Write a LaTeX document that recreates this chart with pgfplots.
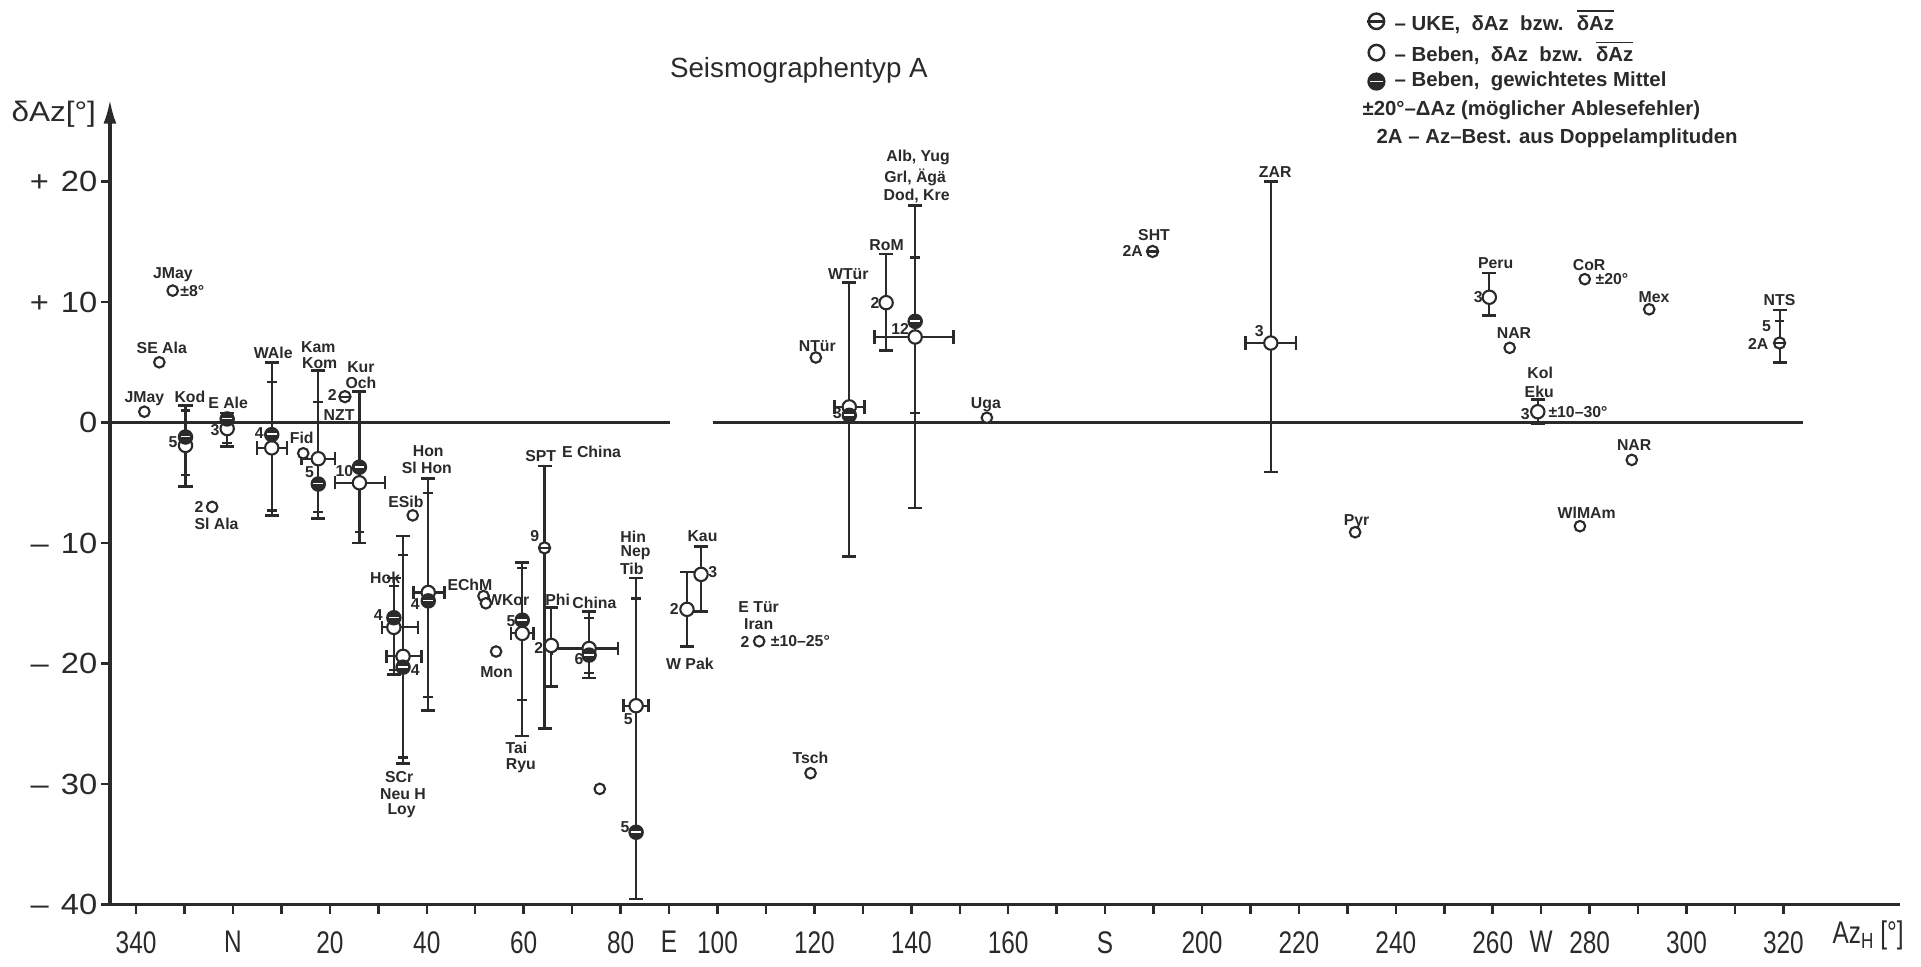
\documentclass[border=0pt]{standalone}
\usepackage{fontspec}
\setmainfont{Liberation Sans}
\newfontfamily\narrowfont{Liberation Sans}[FakeStretch=0.78]
\newfontfamily\widefont{Liberation Sans}[FakeStretch=1.12]
\usepackage{pgfplots}
\pgfplotsset{compat=1.18}
\usetikzlibrary{arrows.meta}
\definecolor{ink}{HTML}{2A2A2A}
\tikzset{lbl/.style={font=\fontsize{4.5}{5}\selectfont\bfseries, text=ink, inner sep=0pt}}

\pgfdeclareplotmark{uke}{%
  \pgfpathcircle{\pgfpointorigin}{\pgfplotmarksize}%
  \pgfusepathqfillstroke
  \pgfpathmoveto{\pgfqpoint{-\pgfplotmarksize}{0pt}}%
  \pgfpathlineto{\pgfqpoint{\pgfplotmarksize}{0pt}}%
  \pgfusepathqstroke}
\pgfdeclareplotmark{wmean}{%
  \pgfpathcircle{\pgfpointorigin}{\pgfplotmarksize}%
  \pgfusepathqfillstroke
  \pgfscope
  \pgfsetstrokecolor{white}%
  \pgfsetlinewidth{0.45pt}%
  \pgfpathmoveto{\pgfqpoint{-0.72\pgfplotmarksize}{0.1pt}}%
  \pgfpathlineto{\pgfqpoint{0.72\pgfplotmarksize}{0.1pt}}%
  \pgfusepathqstroke
  \endpgfscope}

\newcommand{\lab}[3]{\node[lbl] at (axis cs:#1,#2) {#3};}

\begin{document}
\begin{tikzpicture}
\begin{axis}[
  scale only axis,
  width=17.897cm, height=8.049cm,
  xmin=-25.4, xmax=344, ymin=-40, ymax=26.8,
  axis x line=bottom, axis y line=left,
  x axis line style={-, line width=0.9pt, draw=ink},
  y axis line style={-{Latex[length=0.24cm,width=0.13cm]}, line width=0.9pt, draw=ink},
  tick align=outside,
  major tick length=0.09cm,
  tick style={draw=ink, line width=0.7pt},
  xtick={-20,-10,...,320},
  xticklabels={340,,N,,20,,40,,60,,80,E,100,,120,,140,,160,,S,,200,,220,,240,,260,W,280,,300,,320},
  ytick={-40,-30,...,20},
  yticklabels={–\hspace{0.12cm}40,–\hspace{0.12cm}30,–\hspace{0.12cm}20,–\hspace{0.12cm}10,0,+\hspace{0.12cm}10,+\hspace{0.12cm}20},
  x tick label style={font=\narrowfont\fontsize{8.9}{9}\selectfont, text=ink, anchor=north, inner sep=0pt, yshift=-0.17cm},
  y tick label style={font=\widefont\fontsize{8.3}{9}\selectfont, text=ink, anchor=east, inner sep=0pt, xshift=-0.03cm},
  clip=false,
]
% zero line (two pieces)
\addplot[ink, line width=0.8pt, forget plot] coordinates {(-25.4,0) (90.2,0)};
\addplot[ink, line width=0.8pt, forget plot] coordinates {(99.0,0) (324,0)};

% vertical ranges: x, centre, half range
\addplot[draw=none, mark=none, forget plot,
  error bars/.cd, y dir=both, y explicit,
  error bar style={draw=ink, line width=0.6pt},
  error mark=|,
  error mark options={draw=ink, line width=0.75pt, mark size=2.0pt}]
  table[x=x, y=c, y error=h] {
x c h
-9.8 -1.95 3.35
-1.2 -0.6 1.4
8.0 -1.35 6.35
17.6 -1.825 6.125
26.1 -3.7 6.3
40.3 -14.275 9.625
35.1 -18.85 9.45
33.2 -16.9 4.0
59.7 -18.8 7.2
64.3 -14.5 10.9
65.7 -18.625 3.275
73.5 -18.45 2.75
83.2 -26.225 13.325
93.7 -15.5 3.1
96.6 -13.0 2.7
127.2 0.25 11.35
134.8 10.0 4.0
140.8 5.45 12.55
214.2 7.95 12.05
259.3 10.65 1.75
269.3 0.92 0.98
319.2 7.175 2.175
};

% small reading-error ticks on the bars
\addplot[only marks, mark=-, mark size=1.4pt, mark options={draw=ink, line width=0.6pt}, forget plot]
  coordinates {(-9.8,1.0) (-9.8,-4.35) (-1.2,0.55) (-1.2,-1.7) (8.0,3.4) (8.0,-7.3)
  (17.6,1.7) (17.6,-7.4) (26.1,0.0) (26.1,-9.1) (40.3,-5.85) (40.3,-22.8)
  (35.1,-11.0) (35.1,-27.8) (33.2,-13.6) (33.2,-20.5) (59.7,-12.1) (59.7,-23.0)
  (73.5,-16.2) (73.5,-20.8) (83.2,-14.6) (140.8,13.7) (140.8,0.77) (319.2,8.4)};

% open circles with horizontal error bars
\addplot[only marks, mark=*, mark size=1.9pt, mark options={fill=white, draw=ink, line width=0.6pt}, forget plot,
  error bars/.cd, x dir=both, x explicit,
  error bar style={draw=ink, line width=0.6pt},
  error mark=|,
  error mark options={draw=ink, line width=0.7pt, mark size=1.9pt}]
  table[x=x, y=y, x error plus=ep, x error minus=em] {
x y ep em
8.0 -2.1 3.1 3.1
17.6 -3.0 3.5 3.5
26.1 -5.0 5.3 5.1
33.2 -17.0 5.0 2.4
35.1 -19.4 3.8 3.4
40.3 -14.1 3.4 3.0
59.7 -17.5 2.3 2.3
73.5 -18.75 6.0 7.8
83.2 -23.5 2.6 2.6
127.2 1.3 3.1 3.1
140.8 7.1 7.9 8.4
214.2 6.6 5.2 5.2
};

% open circles on bars, no horizontal bar
\addplot[only marks, mark=*, mark size=1.9pt, mark options={fill=white, draw=ink, line width=0.6pt}, forget plot]
  coordinates {(-9.8,-1.9) (-1.2,-0.5) (65.7,-18.5) (93.7,-15.5) (96.6,-12.6)
  (134.8,9.95) (259.3,10.4) (269.3,0.9)};

% single open circles
\addplot[only marks, mark=*, mark size=1.5pt, mark options={fill=white, draw=ink, line width=0.6pt}, forget plot]
  coordinates {(-12.45,10.95) (-15.2,5.0) (-18.3,0.9) (-4.3,-7.0) (14.5,-2.55) (37.1,-7.7)
  (51.7,-14.4) (52.2,-15.0) (54.3,-19.0) (75.7,-30.4) (108.6,-18.15) (119.2,-29.1)
  (120.3,5.4) (155.6,0.4) (231.6,-9.1) (263.5,6.2) (279.0,11.9) (292.3,9.4)
  (288.7,-3.1) (278.0,-8.6)};

% weighted means
\addplot[only marks, mark=wmean, mark size=1.9pt, mark options={fill=ink, draw=ink, line width=0.6pt}, forget plot]
  coordinates {(-9.8,-1.2) (-1.2,0.3) (8.0,-1.0) (17.6,-5.1) (26.1,-3.7) (33.2,-16.2)
  (35.1,-20.3) (40.3,-14.8) (59.7,-16.4) (73.5,-19.3) (83.2,-34.0) (127.2,0.6) (140.8,8.4)};

% UKE
\addplot[only marks, mark=uke, mark size=1.6pt, mark options={fill=white, draw=ink, line width=0.6pt}, forget plot]
  coordinates {(23.1,2.15) (64.3,-10.4) (189.8,14.2) (319.2,6.6)};

% station labels
\lab{-12.4}{12.3}{JMay}
\lab{-8.4}{10.9}{±8°}
\lab{-14.7}{6.2}{SE Ala}
\lab{-18.3}{2.0}{JMay}
\lab{-8.9}{2.15}{Kod}
\lab{-12.4}{-1.6}{5}
\lab{-1.0}{1.65}{E Ale}
\lab{-3.7}{-0.6}{3}
\lab{8.3}{5.8}{WAle}
\lab{5.4}{-0.9}{4}
\lab{14.2}{-1.3}{Fid}
\lab{17.6}{6.3}{Kam}
\lab{17.9}{4.9}{Kom}
\lab{20.5}{2.3}{2}
\lab{21.9}{0.6}{NZT}
\lab{15.8}{-4.1}{5}
\lab{26.4}{4.6}{Kur}
\lab{26.4}{3.3}{Och}
\lab{23.0}{-4.0}{10}
\lab{40.3}{-2.4}{Hon}
\lab{40.0}{-3.8}{Sl Hon}
\lab{35.7}{-6.6}{ESib}
\lab{-7.0}{-7.0}{2}
\lab{-3.4}{-8.4}{Sl Ala}
\lab{31.4}{-12.9}{Hok}
\lab{30.0}{-16.0}{4}
\lab{37.6}{-20.5}{4}
\lab{34.3}{-29.4}{SCr}
\lab{35.1}{-30.8}{Neu H}
\lab{34.8}{-32.2}{Loy}
\lab{37.6}{-15.1}{4}
\lab{48.9}{-13.5}{EChM}
\lab{56.8}{-14.7}{WKor}
\lab{54.4}{-20.7}{Mon}
\lab{57.4}{-16.45}{5}
\lab{58.5}{-27.0}{Tai}
\lab{59.4}{-28.5}{Ryu}
\lab{63.5}{-2.8}{SPT}
\lab{74.0}{-2.4}{E China}
\lab{62.3}{-9.4}{9}
\lab{67.0}{-14.7}{Phi}
\lab{74.6}{-15.0}{China}
\lab{63.1}{-18.7}{2}
\lab{71.4}{-19.6}{6}
\lab{82.6}{-9.45}{Hin}
\lab{83.1}{-10.8}{Nep}
\lab{82.3}{-12.1}{Tib}
\lab{81.6}{-24.65}{5}
\lab{80.9}{-33.6}{5}
\lab{91.1}{-15.5}{2}
\lab{94.3}{-20.0}{W Pak}
\lab{96.9}{-9.45}{Kau}
\lab{99.0}{-12.4}{3}
\lab{108.5}{-15.3}{E Tür}
\lab{108.5}{-16.75}{Iran}
\lab{105.7}{-18.2}{2}
\lab{117.1}{-18.1}{±10–25°}
\lab{119.2}{-27.8}{Tsch}
\lab{124.7}{0.77}{3}
\lab{127.0}{12.3}{WTür}
\lab{120.6}{6.35}{NTür}
\lab{134.9}{14.7}{RoM}
\lab{132.5}{9.95}{2}
\lab{141.4}{22.0}{Alb, Yug}
\lab{140.8}{20.35}{Grl, Ägä}
\lab{141.1}{18.8}{Dod, Kre}
\lab{137.7}{7.8}{12}
\lab{155.4}{1.46}{Uga}
\lab{190.1}{15.6}{SHT}
\lab{185.7}{14.2}{2A}
\lab{215.1}{20.8}{ZAR}
\lab{211.8}{7.6}{3}
\lab{231.9}{-8.2}{Pyr}
\lab{260.6}{13.2}{Peru}
\lab{257.0}{10.45}{3}
\lab{264.4}{7.4}{NAR}
\lab{269.8}{4.1}{Kol}
\lab{269.6}{2.56}{Eku}
\lab{266.7}{0.7}{3}
\lab{277.6}{0.9}{±10–30°}
\lab{279.9}{13.1}{CoR}
\lab{284.6}{11.9}{±20°}
\lab{293.3}{10.45}{Mex}
\lab{289.2}{-1.86}{NAR}
\lab{279.4}{-7.5}{WlMAm}
\lab{319.2}{10.2}{NTS}
\lab{316.5}{8.0}{5}
\lab{314.8}{6.5}{2A}

% title, axis labels
\node[font=\fontsize{7.9}{9}\selectfont, text=ink, inner sep=0pt] at (axis cs:116.8,29.25) {Seismographentyp A};
\node[font=\widefont\fontsize{8}{9}\selectfont, text=ink, inner sep=0pt] at (axis cs:-37.0,25.6) {δAz[°]};
\node[font=\narrowfont\fontsize{8.9}{9}\selectfont, text=ink, inner sep=0pt] at (axis cs:337.5,-42.6) {Az\textsubscript{H}\,[°]};

% legend glyphs
\node[circle, draw=ink, fill=white, line width=0.7pt, minimum size=4.4pt, inner sep=0pt] (gu) at (axis cs:236.0,33.3) {};
\draw[ink, line width=0.7pt] (gu.west) -- (gu.east);
\node[circle, draw=ink, fill=white, line width=0.7pt, minimum size=4.4pt, inner sep=0pt] at (axis cs:236.0,30.7) {};
\node[circle, fill=ink, minimum size=5.2pt, inner sep=0pt] (gm) at (axis cs:236.0,28.3) {};
\draw[white, line width=0.5pt] ([xshift=0.9pt]gm.west) -- ([xshift=-0.9pt]gm.east);
% legend text
\begin{scope}[every node/.style={font=\fontsize{5.8}{7}\selectfont\bfseries, text=ink, inner sep=0pt, anchor=west}]
\node at (axis cs:239.6,33.3) {– UKE, \ δAz \ bzw. \ $\overline{\hbox{δAz}}$};
\node at (axis cs:239.6,30.7) {– Beben, \ δAz \ bzw. \ $\overline{\hbox{δAz}}$};
\node at (axis cs:239.6,28.3) {– Beben, \ gewichtetes Mittel};
\node at (axis cs:233.0,25.9) {±20°–ΔAz (möglicher Ablesefehler)};
\node at (axis cs:235.9,23.6) {2A – Az–Best. aus Doppelamplituden};
\end{scope}

\coordinate (bbA) at (axis cs:-48.09,-45.10);
\coordinate (bbB) at (axis cs:348.40,35.07);
\end{axis}
\pgfresetboundingbox
\path (bbA) rectangle (bbB);
\end{tikzpicture}
\end{document}
